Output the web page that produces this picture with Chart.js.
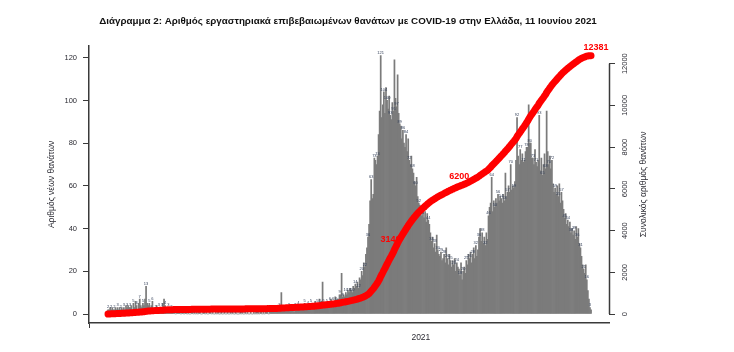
<!DOCTYPE html>
<html>
<head>
<meta charset="utf-8">
<script src="https://cdn.jsdelivr.net/npm/chart.js@4.4.1/dist/chart.umd.min.js"></script>
<style>
  html, body { margin: 0; padding: 0; background: #fff; }
  #wrap { width: 734px; height: 352px; }
</style>
</head>
<body>
<div id="wrap"><canvas id="chart" width="734" height="352"></canvas></div>
<script>
// daily deaths, first bar = 11 March 2020
const startDate = "2020-03-11";
const mar2020 = [2,2,3,2,3,2,2,3,2,3,2,3,2,3,2,3,2,4,3,4,3];
const apr2020 = [3,4,2,5,3,6,4,2,5,7,4,3,5,4,7,13,5,4,5,3,4,6,2,3,2,4,2,3,2,1];
const may2020 = [3,5,7,4,3,2,3,1,2,2,1,2,1,0,1,1,1,1,0,1,1,0,1,1,0,1,0,0,1,1,0];
const jun2020 = [1,0,1,0,2,1,0,0,1,1,0,1,0,0,1,2,0,1,0,0,1,0,1,0,0,1,0,0,1,0];
const jul2020 = [0,1,0,0,1,0,1,0,0,1,0,0,0,1,0,1,0,0,2,0,1,0,0,1,0,0,1,0,1,0,1];
const aug2020 = [0,1,1,0,1,0,1,1,1,0,2,1,1,2,1,1,2,1,2,3,2,10,2,2,3,2,4,2,3,2,4];
const sep2020 = [2,2,1,3,2,3,4,2,3,2,3,3,5,3,2,4,3,3,5,4,4,3,6,4,5,4,7,5,6,15];
const oct2020 = [5,4,5,5,6,5,6,7,5,6,6,8,6,7,7,9,9,19,8,9,8,10,9,11,10,12,11,10,13,12,14];
const nov2020 = [13,15,12,17,16,20,18,24,22,28,31,36,42,53,63,54,56,73,72,70,74,84,95,121,92,98,104,94,106,100];
const dec2020 = [96,102,93,91,99,95,119,101,97,112,94,89,88,82,86,80,78,84,76,82,72,70,74,68,66,62,60,64,55,52,51];
const jan2021 = [49,46,51,45,48,43,47,44,42,38,34,36,31,33,29,37,30,28,27,29,25,26,28,24,31,26,23,28,25,22,25];
const feb2021 = [23,26,20,24,22,21,18,24,16,20,22,19,25,23,28,26,29,24,28,31,26,32,27,30,36,40,34,38];
const mar2021 = [33,36,32,38,35,46,50,52,64,48,53,50,54,52,56,53,55,54,52,56,53,66,55,57,60,57,70,58,60,59,62];
const apr2021 = [72,92,74,70,77,72,75,71,72,76,78,78,98,80,80,73,73,70,77,71,69,72,93,67,73,65,70,75,68,95];
const may2021 = [76,70,74,68,72,61,57,59,56,60,55,61,52,57,53,49,45,47,42,44,41,43,38,40,37,39,35,41,36,40,33];
const jun2021 = [31,27,23,21,19,23,16,11,7,3,2];

const dailyDeaths = [].concat(mar2020, apr2020, may2020, jun2020, jul2020, aug2020,
  sep2020, oct2020, nov2020, dec2020, jan2021, feb2021, mar2021, apr2021, may2021, jun2021);

const leftTicks = [0, 20, 40, 60, 80, 100, 120];
const rightTicks = [0, 2000, 4000, 6000, 8000, 10000, 12000];
const xTickDates = ["2021-01-01"];
const xTickLabels = ["2021"];
const milestones = [3140, 6200, 12381];
const milestoneShift = [-5, -5, 5];

const chartTitle = "Διάγραμμα 2: Αριθμός εργαστηριακά επιβεβαιωμένων θανάτων με COVID-19 στην Ελλάδα, 11 Ιουνίου 2021";
const leftAxisTitle = "Αριθμός νέων θανάτων";
const rightAxisTitle = "Συνολικός αριθμός θανάτων";

// running total for the red line
const cumulative = [];
dailyDeaths.reduce((s, v, i) => (cumulative[i] = s + v), 0);

const dayIndex = d => Math.round((Date.parse(d) - Date.parse(startDate)) / 86400000);
const xTickDays = xTickDates.map(dayIndex);

const barPoints = dailyDeaths.map((v, i) => ({x: i, y: v}));
const linePoints = cumulative.map((v, i) => ({x: i, y: v}));

const axisColor = "#3a3a3a";
const textColor = "#2b2b33";

function drawMilestones(chart, onTop) {
  const ctx = chart.ctx;
  const xs = chart.scales.x, ys = chart.scales.y2;
  ctx.save();
  ctx.font = "bold 9px 'Liberation Sans', Arial, sans-serif";
  ctx.fillStyle = "#ff0000";
  ctx.textAlign = "center";
  ctx.textBaseline = "middle";
  milestones.forEach((m, k) => {
    const last = k === milestones.length - 1;
    if (last !== onTop) return;
    let idx = cumulative.findIndex(c => c >= m);
    if (idx < 0) idx = cumulative.length - 1;
    const px = xs.getPixelForValue(idx);
    const py = ys.getPixelForValue(cumulative[idx]);
    ctx.fillText(String(m), px + milestoneShift[k], py - 8);
  });
  ctx.restore();
}

const overlay = {
  id: "overlay",
  afterDatasetDraw(chart, args) {
    if (args.index !== 1) return;
    const ctx = chart.ctx;
    ctx.save();
    ctx.font = "4px 'Liberation Sans', Arial, sans-serif";
    ctx.fillStyle = "#34405a";
    ctx.textAlign = "center";
    ctx.textBaseline = "bottom";
    args.meta.data.forEach((bar, i) => {
      if (i % 3) return;
      ctx.fillText(String(dailyDeaths[i]), bar.x, bar.y - 0.5);
    });
    ctx.restore();
    drawMilestones(chart, false);
  },
  afterDatasetsDraw(chart) {
    drawMilestones(chart, true);
  },
  afterDraw(chart) {
    const ctx = chart.ctx;
    const ys = chart.scales.y2;
    const x = ys.left;
    ctx.save();
    ctx.strokeStyle = axisColor;
    ctx.lineWidth = 1.5;
    ctx.beginPath();
    ctx.moveTo(x + 0.5, ys.getPixelForValue(rightTicks[0]));
    ctx.lineTo(x + 0.5, ys.getPixelForValue(rightTicks[rightTicks.length - 1]));
    ctx.stroke();
    ctx.translate(644, (chart.chartArea.top + chart.chartArea.bottom) / 2);
    ctx.rotate(-Math.PI / 2);
    ctx.font = "8.5px 'Liberation Sans', Arial, sans-serif";
    ctx.fillStyle = textColor;
    ctx.textAlign = "center";
    ctx.textBaseline = "middle";
    ctx.fillText(rightAxisTitle, 0, 0);
    ctx.restore();
  }
};

new Chart(document.getElementById("chart"), {
  data: {
    datasets: [
      {
        type: "line",
        data: linePoints,
        yAxisID: "y2",
        borderColor: "#ff0000",
        borderWidth: 7,
        borderCapStyle: "round",
        borderJoinStyle: "round",
        pointRadius: 0,
        tension: 0,
        order: 1
      },
      {
        type: "bar",
        data: barPoints,
        yAxisID: "y",
        backgroundColor: "#7b7b7b",
        borderWidth: 0,
        barPercentage: 1,
        categoryPercentage: 1,
        order: 2
      }
    ]
  },
  options: {
    responsive: false,
    animation: false,
    devicePixelRatio: 1,
    layout: {padding: {top: 4, right: 38, bottom: 0, left: 0}},
    plugins: {
      legend: {display: false},
      tooltip: {enabled: false},
      title: {
        display: true,
        text: chartTitle,
        color: "#111",
        font: {family: "'Liberation Sans', Arial, sans-serif", size: 9.8, weight: "bold"},
        padding: {top: 11, bottom: 19}
      }
    },
    scales: {
      x: {
        type: "linear",
        offset: false,
        min: -18,
        max: 474,
        afterBuildTicks: s => { s.ticks = xTickDays.map(v => ({value: v})); },
        afterFit: s => { s.height = 29; },
        ticks: {
          color: textColor,
          font: {family: "'Liberation Sans', Arial, sans-serif", size: 8.5},
          padding: 5,
          maxRotation: 0,
          callback: v => xTickLabels[xTickDays.indexOf(v)]
        },
        grid: {drawOnChartArea: false, tickLength: 5, color: axisColor},
        border: {color: axisColor, width: 1.5}
      },
      y: {
        position: "left",
        min: -4.2,
        max: 125.6,
        afterBuildTicks: s => { s.ticks = leftTicks.map(v => ({value: v})); },
        afterFit: s => { s.width = 89; },
        ticks: {
          color: textColor,
          font: {family: "'Liberation Sans', Arial, sans-serif", size: 7.5},
          padding: 6,
          callback: v => String(v)
        },
        grid: {drawOnChartArea: false, tickLength: 6, color: axisColor},
        border: {color: axisColor, width: 1.5},
        title: {
          display: true,
          text: leftAxisTitle,
          color: textColor,
          font: {family: "'Liberation Sans', Arial, sans-serif", size: 8.5},
          padding: {top: 47, bottom: 0}
        }
      },
      y2: {
        position: "right",
        min: -429,
        max: 12857,
        afterBuildTicks: s => { s.ticks = rightTicks.map(v => ({value: v})); },
        afterFit: s => { s.width = 87; },
        ticks: {
          color: textColor,
          font: {family: "'Liberation Sans', Arial, sans-serif", size: 7.5},
          padding: 0,
          minRotation: 90,
          maxRotation: 90,
          crossAlign: "center",
          callback: v => String(v)
        },
        grid: {drawOnChartArea: false, tickLength: 6, color: axisColor},
        border: {display: false}
      }
    }
  },
  plugins: [overlay]
});
</script>
</body>
</html>
